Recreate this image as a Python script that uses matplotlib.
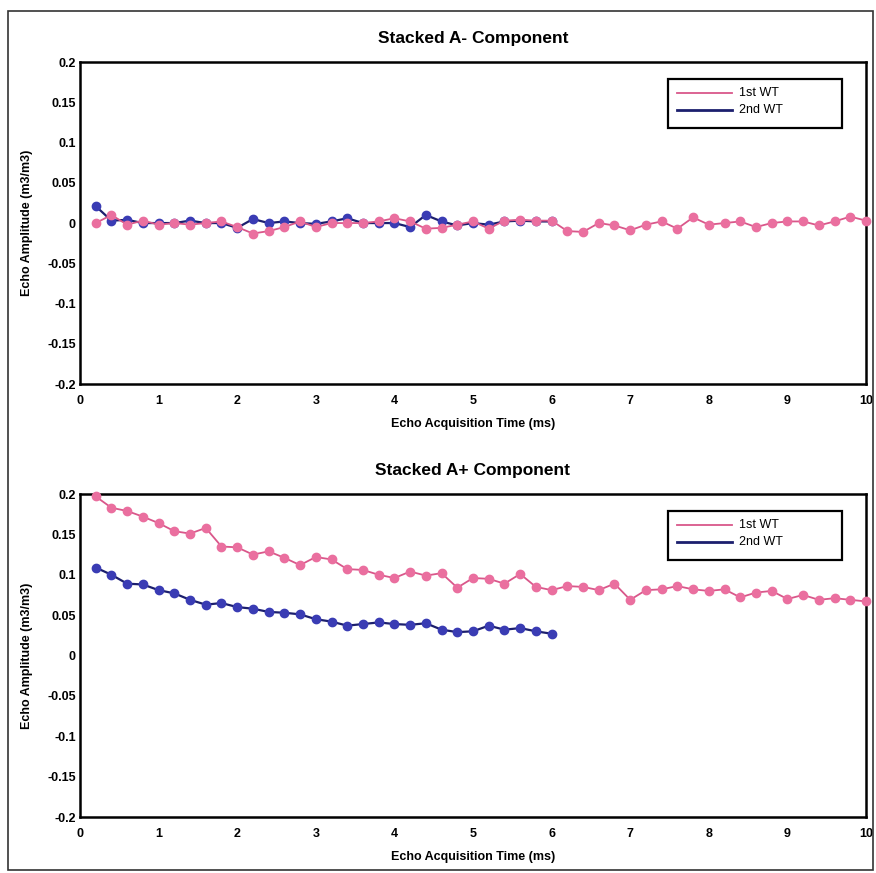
import numpy as np
import matplotlib
matplotlib.use("Agg")
import matplotlib.pyplot as plt
from matplotlib.patches import Rectangle

plt.rcParams['font.family'] = ['Liberation Sans', 'DejaVu Sans']

# echo times (ms), 0.2 ms spacing
t_1st = np.round(np.arange(1, 51) * 0.2, 1)
t_2nd = np.round(np.arange(1, 31) * 0.2, 1)

# Stacked A- component
a_minus_1st = [0.000, 0.010, -0.002, 0.003, -0.002, 0.000, -0.002, 0.000, 0.002, -0.005,
               -0.013, -0.010, -0.005, 0.002, -0.005, 0.000, 0.000, 0.000, 0.002, 0.006,
               0.002, -0.007, -0.006, -0.002, 0.002, -0.007, 0.003, 0.004, 0.003, 0.003,
               -0.010, -0.011, 0.000, -0.003, -0.009, -0.002, 0.002, -0.007, 0.007, -0.002,
               0.000, 0.002, -0.005, 0.000, 0.002, 0.002, -0.003, 0.002, 0.008, 0.003]
a_minus_2nd = [0.021, 0.003, 0.004, 0.000, 0.000, 0.000, 0.003, 0.000, 0.000, -0.006,
               0.005, 0.000, 0.002, 0.000, -0.001, 0.002, 0.006, 0.000, 0.000, 0.000,
               -0.005, 0.010, 0.002, -0.003, 0.000, -0.002, 0.002, 0.003, 0.002, 0.002]

# Stacked A+ component
a_plus_1st = [0.197, 0.183, 0.179, 0.172, 0.164, 0.154, 0.151, 0.158, 0.135, 0.134,
              0.125, 0.129, 0.121, 0.112, 0.122, 0.119, 0.107, 0.106, 0.100, 0.096,
              0.104, 0.099, 0.102, 0.084, 0.096, 0.095, 0.089, 0.101, 0.085, 0.081,
              0.086, 0.085, 0.081, 0.089, 0.069, 0.081, 0.082, 0.086, 0.082, 0.080,
              0.082, 0.072, 0.078, 0.080, 0.070, 0.075, 0.069, 0.071, 0.069, 0.067]
a_plus_2nd = [0.109, 0.100, 0.089, 0.088, 0.081, 0.077, 0.069, 0.063, 0.065, 0.060,
              0.058, 0.054, 0.053, 0.051, 0.045, 0.042, 0.037, 0.039, 0.041, 0.039,
              0.038, 0.040, 0.032, 0.029, 0.030, 0.037, 0.032, 0.034, 0.030, 0.027]

y_ticks = [0.2, 0.15, 0.1, 0.05, 0, -0.05, -0.1, -0.15, -0.2]
y_labels = ['0.2', '0.15', '0.1', '0.05', '0', '-0.05', '-0.1', '-0.15', '-0.2']
x_ticks = list(range(0, 11))
series_names = ['1st WT', '2nd WT']

pink_line = '#d9578a'
pink_mark = '#ea6f9f'
blue_line = '#1c1f6e'
blue_mark = '#3a3cb4'

fig = plt.figure(figsize=(8.76, 8.73), dpi=100)
fig.patches.append(Rectangle((0.009, 0.003), 0.988, 0.984, transform=fig.transFigure,
                             fill=False, edgecolor='#333333', linewidth=1.2))

ax1 = fig.add_axes([0.0913, 0.5601, 0.8973, 0.3688])
ax2 = fig.add_axes([0.0913, 0.0641, 0.8973, 0.3700])


def draw(ax, title, first, second):
    ax.plot(t_1st, first, color=pink_line, lw=1.3, marker='o', ms=6,
            mfc=pink_mark, mec=pink_mark, zorder=4, clip_on=False)
    ax.plot(t_2nd, second, color=blue_line, lw=1.6, marker='o', ms=6,
            mfc=blue_mark, mec=blue_mark, zorder=3, clip_on=False)
    ax.set_xlim(0, 10)
    ax.set_ylim(-0.2, 0.2)
    ax.set_xticks(x_ticks)
    ax.set_yticks(y_ticks)
    ax.set_yticklabels(y_labels)
    ax.tick_params(length=0, labelsize=9, pad=3)
    ax.tick_params(axis='x', pad=8)
    for lab in ax.get_xticklabels() + ax.get_yticklabels():
        lab.set_fontweight('bold')
    for sp in ax.spines.values():
        sp.set_linewidth(1.8)
    ax.set_title(title, fontsize=12.5, fontweight='bold', pad=14)
    ax.set_xlabel('Echo Acquisition Time (ms)', fontsize=9, fontweight='bold', labelpad=8)
    ax.set_ylabel('Echo Amplitude (m3/m3)', fontsize=9, fontweight='bold', labelpad=10)

    # legend box drawn by hand: wider than the text, lines only
    tr = ax.transAxes
    ax.add_patch(Rectangle((0.748, 0.795), 0.222, 0.152, transform=tr, fill=False,
                           edgecolor='black', lw=1.6, zorder=6, clip_on=False))
    for i, (name, col, lw) in enumerate(zip(series_names, [pink_line, blue_line], [1.3, 2.0])):
        yy = 0.903 - i * 0.053
        ax.plot([0.760, 0.830], [yy, yy], transform=tr, color=col, lw=lw, zorder=6)
        ax.text(0.838, yy, name, transform=tr, fontsize=9, va='center', ha='left', zorder=6)


draw(ax1, 'Stacked A- Component', a_minus_1st, a_minus_2nd)
draw(ax2, 'Stacked A+ Component', a_plus_1st, a_plus_2nd)

fig.savefig('out.png', dpi=100)
